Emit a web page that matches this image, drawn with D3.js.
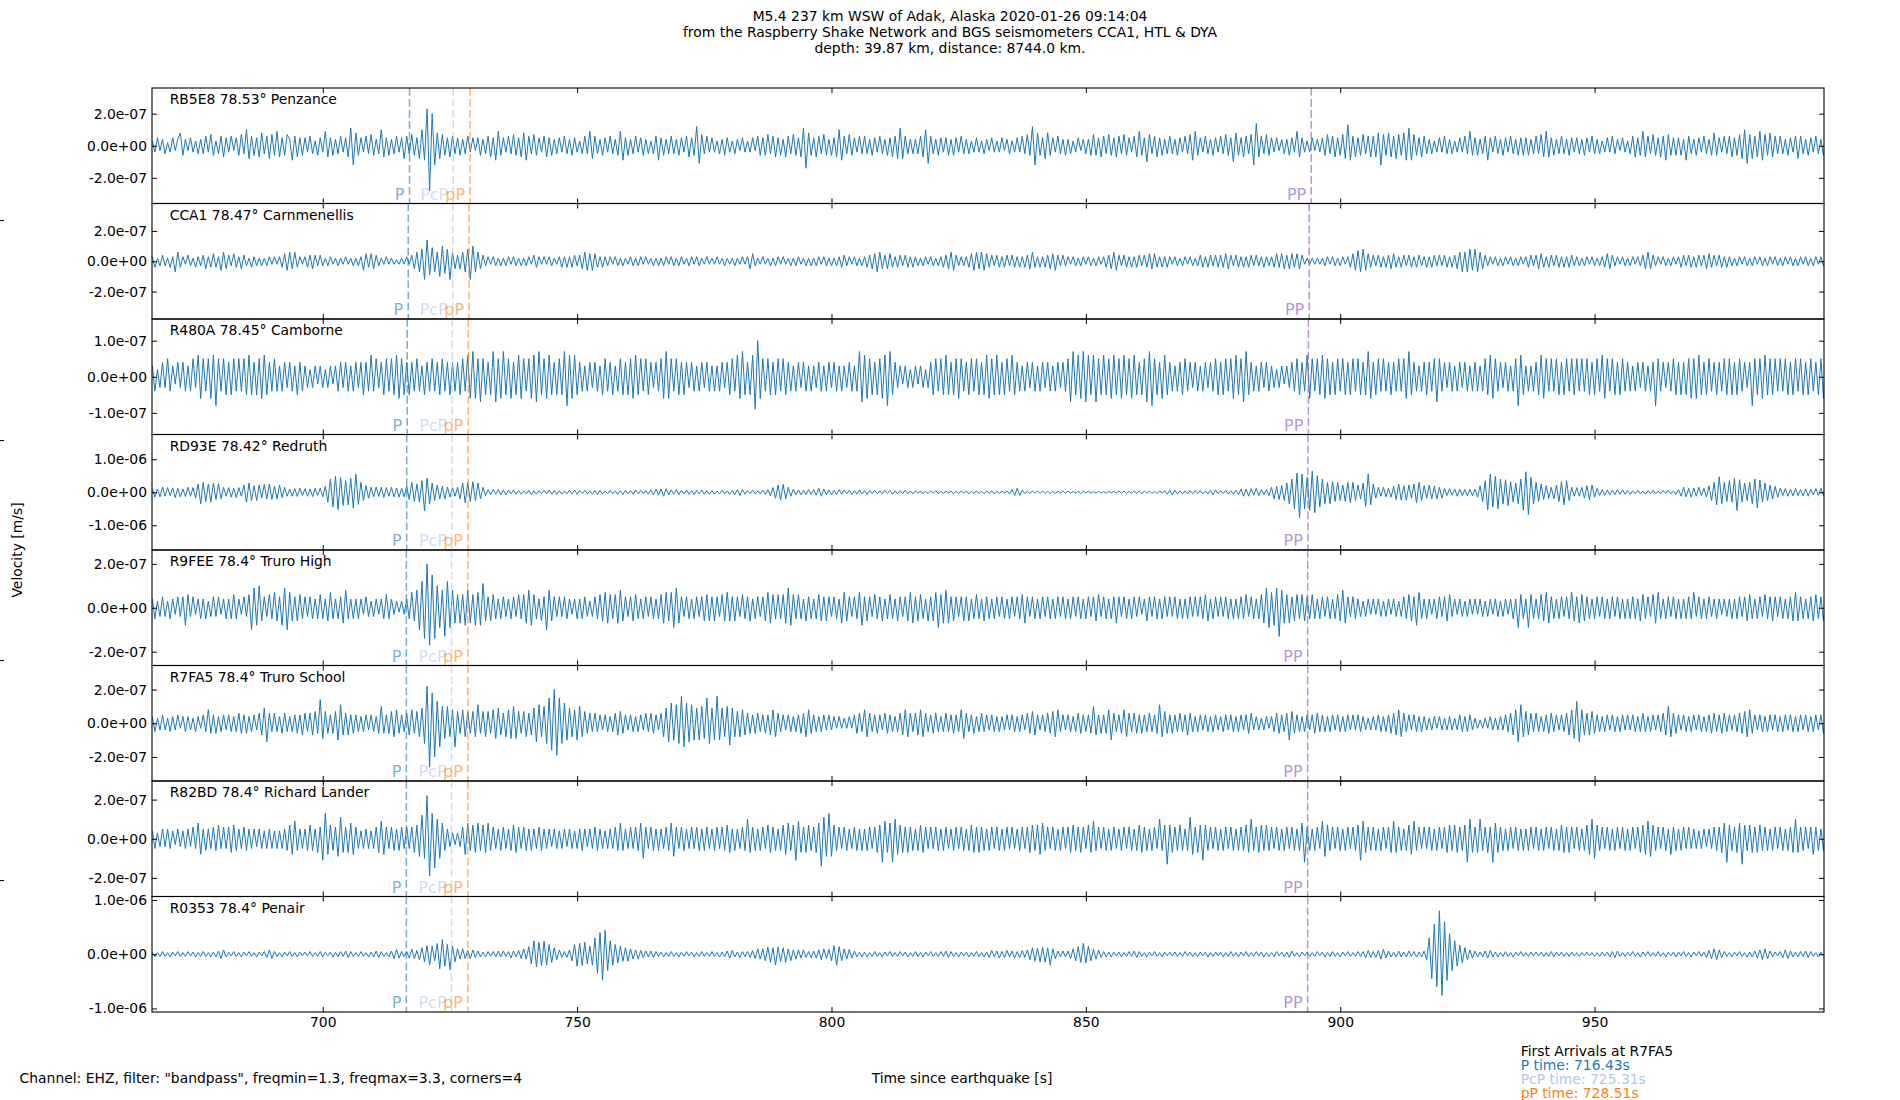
<!DOCTYPE html>
<html lang="en">
<head>
<meta charset="utf-8">
<title>M5.4 237 km WSW of Adak, Alaska</title>
<script src="https://d3js.org/d3.v7.min.js"></script>
<style>
    body { margin: 0; background: white; }
    svg { display: block; }
    text { font-family: "DejaVu Sans", sans-serif; font-size: 13.9px; fill: black; }
    .trace { fill: none; stroke: #1f77b4; stroke-width: 1; }
    .frame { fill: none; stroke: black; stroke-width: 1.1; }
    .arrival { stroke-width: 1.5; stroke-dasharray: 7.7 3.3; }
    .phase { font-size: 16px; }
</style>
</head>
<body>
<svg id="chart" width="1900" height="1100"></svg>
<script>
    // ---- text content ----
    const titleLines = [
        "M5.4 237 km WSW of Adak, Alaska 2020-01-26 09:14:04",
        "from the Raspberry Shake Network and BGS seismometers CCA1, HTL & DYA",
        "depth: 39.87 km, distance: 8744.0 km."
    ];
    const stationLabels = [
        "RB5E8 78.53° Penzance", "CCA1 78.47° Carnmenellis", "R480A 78.45° Camborne",
        "RD93E 78.42° Redruth", "R9FEE 78.4° Truro High", "R7FA5 78.4° Truro School",
        "R82BD 78.4° Richard Lander", "R0353 78.4° Penair"
    ];
    const filterNote = 'Channel: EHZ, filter: "bandpass", freqmin=1.3, freqmax=3.3, corners=4';
    const legendLines = ["First Arrivals at R7FA5", "P time: 716.43s", "PcP time: 725.31s", "pP time: 728.51s"];

    // arrival times per station [s]
    const arrivalP   = [717.05, 716.8, 716.6, 716.5, 716.43, 716.43, 716.43, 716.43];
    const arrivalPcP = [725.65, 725.55, 725.45, 725.4, 725.31, 725.31, 725.31, 725.31];
    const arrivalpP  = [728.95, 728.75, 728.6, 728.55, 728.51, 728.51, 728.51, 728.51];
    const arrivalPP  = [894.3, 893.9, 893.75, 893.65, 893.6, 893.6, 893.6, 893.6];

    // axes
    const timeRange = [666.43, 995.1];
    const xTickValues = [700, 750, 800, 850, 900, 950];
    const yLimits = [3.6e-7, 3.81e-7, 1.6e-7, 1.75e-6, 2.63e-7, 3.43e-7, 2.95e-7, 1.065e-6];
    const yTickSteps = [2e-7, 2e-7, 1e-7, 1e-6, 2e-7, 2e-7, 2e-7, 1e-6];

    // velocity samples, in units of 1e-8 m/s; one row = 10 s of data, 0.5 s apart, first at 666.5 s
    const sampleStart = 666.5, sampleStep = 0.5, rowSeconds = 10, unit = 1e-8;

    const tracePenzance = [
        [3,-4,5,-3,4,-5,2,-4,5,-3,4,8,-6,4,-3,5,-4,3,-5,4],
        [-5,6,-4,7,-6,3,-5,6,-7,5,-4,6,-3,5,-6,7,-5,10,-8,6],
        [-6,5,-7,8,-5,6,-8,7,-6,9,-7,5,-6,7,4,-9,6,-7,5,-6],
        [5,-4,6,-5,3,-6,5,-4,9,-7,5,-6,4,-5,6,-4,5,-7,11,-12],
        [8,-6,5,-4,6,-5,7,-6,4,-5,10,-7,5,-6,4,-5,6,-4,5,-8],
        [6,-5,7,-6,5,-8,10,-9,23,-28,20,-12,8,-8,7,-6,5,-7,6,-5],
        [5,-6,4,-5,6,-4,5,-3,5,-6,4,-5,6,-7,5,-9,9,-6,5,-4],
        [6,-5,7,-6,5,-7,8,-9,6,-5,7,-6,5,-4,6,-7,5,-6,4,-5],
        [5,-4,6,-5,4,-6,5,-4,3,-5,6,-5,9,-8,6,-5,4,-6,5,-4],
        [6,-5,4,-6,9,-9,5,-6,4,-5,6,-4,5,-6,4,-5,3,-5,6,-9],
        [5,-6,4,-5,6,-5,4,-6,5,-4,6,-7,5,-6,12,-11,7,-5,6,-4],
        [5,-4,3,-5,4,-6,5,-4,3,-5,4,-3,5,-4,3,-4,5,-3,6,-6],
        [5,-6,7,-5,6,-7,5,-6,4,-7,6,-5,7,-6,5,-7,11,-14,8,-6],
        [5,-7,6,-5,7,-6,4,-6,5,-7,10,-9,6,-5,7,-6,5,-4,6,-5],
        [6,-5,4,-6,5,-4,6,-5,4,-6,5,-7,6,-8,11,-8,6,-5,4,-5],
        [4,-5,6,-7,10,-11,6,-5,4,-6,5,-4,5,-6,4,-6,5,-4,6,-5],
        [4,-5,3,-4,5,-4,3,-5,4,-3,5,-4,3,-4,5,-3,4,-5,3,-4],
        [5,-4,6,-5,7,-6,12,-12,8,-6,5,-8,8,-6,5,-4,6,-5,4,-6],
        [4,-5,3,-4,5,-3,4,-5,4,-6,7,-6,5,-7,6,-5,7,-6,5,-7],
        [6,-5,7,-6,5,-4,6,-7,9,-6,5,-10,7,-5,6,-7,5,-6,4,-5],
        [6,-5,4,-6,5,-4,6,-5,7,-9,9,-6,5,-4,6,-5,4,-6,5,-4],
        [6,-5,7,-6,5,-10,8,-6,5,-7,6,-5,7,-12,14,-7,6,-5,7,-6],
        [5,-4,5,-3,4,-5,4,-6,5,-4,9,-7,5,-4,3,-4,5,-3,4,-4],
        [5,-6,7,-5,6,-7,5,-6,7,-8,13,-9,6,-7,5,-6,7,-5,6,-7],
        [6,-7,8,-12,7,-6,8,-7,6,-8,7,-6,8,-9,11,-9,7,-6,5,-7],
        [6,-5,4,-5,3,-4,5,-4,6,-5,4,-5,3,-4,5,-4,6,-5,9,-6],
        [5,-6,4,-5,6,-9,5,-4,6,-5,4,-6,5,-4,6,-5,4,-6,5,-6],
        [5,-6,4,-5,6,-5,7,-7,9,-7,5,-6,4,-5,6,-5,4,-6,5,-4],
        [5,-5,4,-6,5,-4,6,-5,4,-5,3,-4,5,-4,6,-5,4,-3,5,-4],
        [3,-5,6,-7,5,-6,9,-7,6,-5,7,-6,5,-7,6,-9,7,-6,5,-6],
        [5,-6,4,-9,6,-5,4,-6,5,-4,6,-5,4,-6,8,-6,5,-4,6,-5],
        [6,-7,5,-6,7,-8,10,-11,7,-8,6,-7,9,-9,7,-6,8,-7,6,-5],
        [6,-5,4,-6,5,-4,6,-8,6,-5,4,-6,5,-4,6,-5,4,-6,5,-4]
    ];

    const traceCarnmenellis = [
        [3,-4,2,-3,4,-3,2,-4,3,-7,6,-4,3,-2,4,-3,2,-4,3,-3],
        [4,-5,3,-4,5,-4,3,-6,6,-5,4,-3,5,-4,3,-5,4,-3,2,-4],
        [3,-3,2,-3,2,-3,3,-2,3,-2,3,-4,5,-6,6,-5,6,-4,3,-2],
        [3,-4,4,-5,4,-3,4,-3,2,-3,3,-2,2,-3,2,-2,3,-2,2,-3],
        [2,-3,3,-6,5,-4,5,-5,4,-3,2,-2,3,-2,2,-2,1,-2,2,-2],
        [3,-2,4,-5,6,-7,8,-12,14,-9,9,-7,6,-10,10,-8,8,-12,6,-5],
        [4,-5,6,-7,8,-12,10,-7,6,-5,4,-3,3,-2,3,-3,2,-3,2,-3],
        [3,-2,3,-3,2,-3,2,-3,3,-2,4,-4,3,-2,3,-2,3,-3,2,-2],
        [3,-4,3,-4,3,-4,4,-3,4,-5,6,-6,5,-6,5,-4,3,-4,3,-3],
        [3,-2,3,-3,2,-3,2,-2,3,-3,2,-3,3,-2,3,-2,2,-3,2,-3],
        [2,-3,3,-2,3,-3,2,-3,3,-2,2,-3,3,-2,3,-3,2,-2,3,-2],
        [2,-2,3,-2,2,-3,2,-2,2,-3,2,-2,3,-2,3,-5,5,-3,2,-2],
        [3,-2,2,-3,2,-3,3,-2,3,-2,2,-3,2,-3,3,-2,2,-3,2,-3],
        [2,-3,3,-2,3,-3,2,-3,2,-3,3,-4,4,-3,3,-2,3,-3,2,-3],
        [3,-4,4,-5,5,-7,6,-5,4,-5,5,-4,3,-4,4,-3,4,-4,3,-4],
        [3,-3,2,-3,3,-2,3,-3,2,-3,3,-4,4,-5,6,-6,4,-3,3,-3],
        [3,-4,5,-6,6,-5,6,-6,5,-4,4,-3,4,-4,3,-4,4,-3,4,-4],
        [3,-4,3,-4,4,-5,6,-4,3,-4,3,-4,4,-5,5,-6,4,-3,4,-3],
        [3,-2,3,-3,2,-3,3,-2,3,-3,2,-3,3,-2,3,-4,4,-5,6,-6],
        [4,-3,4,-4,3,-4,3,-4,4,-3,4,-4,5,-5,5,-4,3,-4,3,-4],
        [3,-2,3,-3,2,-3,3,-2,3,-3,2,-3,4,-4,3,-4,4,-3,4,-4],
        [4,-4,5,-5,4,-3,4,-4,3,-4,3,-4,4,-3,4,-3,3,-4,3,-3],
        [3,-4,5,-4,5,-5,4,-5,5,-4,5,-5,4,-2,2,-2,2,-2,2,-2],
        [2,-3,3,-2,3,-3,2,-3,3,-2,3,-4,5,-6,7,-7,8,-6,5,-4],
        [4,-3,4,-4,3,-4,4,-5,5,-4,3,-4,4,-3,4,-4,3,-4,4,-3],
        [3,-4,3,-4,4,-3,4,-3,4,-4,3,-4,4,-5,6,-7,6,-7,8,-6],
        [8,-7,6,-5,4,-3,3,-2,3,-3,2,-3,3,-2,3,-3,2,-3,3,-2],
        [3,-4,4,-3,4,-5,5,-4,3,-4,4,-3,4,-4,3,-4,3,-4,4,-3],
        [3,-3,2,-3,3,-2,3,-3,2,-3,3,-4,5,-5,4,-3,3,-2,3,-3],
        [2,-3,3,-2,3,-3,4,-5,6,-5,4,-3,3,-2,3,-3,2,-3,3,-2],
        [3,-4,4,-3,4,-4,3,-4,4,-3,4,-5,5,-4,4,-3,4,-4,3,-4],
        [3,-3,2,-3,3,-2,3,-3,2,-3,3,-2,3,-3,2,-3,3,-2,3,-3],
        [2,-3,3,-2,3,-3,2,-3,3,-2,3,-3,2,-3,3,-2,3,-3,2,-3]
    ];

    const traceCamborne = [
        [3,-4,2,-3,4,-3,5,-4,3,-2,4,-3,4,-4,3,-4,5,-3,6,-6],
        [5,-4,5,-6,6,-8,5,-4,5,-5,4,-5,5,-4,5,-4,5,-5,6,-5],
        [4,-5,5,-6,6,-5,4,-4,5,-4,3,-4,4,-3,4,-4,3,-5,4,-4],
        [3,-3,2,-3,3,-2,3,-3,2,-3,3,-2,3,-4,4,-3,4,-4,3,-4],
        [4,-3,4,-5,4,-4,6,-4,5,-3,4,-5,5,-4,5,-5,6,-6,5,-5],
        [4,-5,4,-4,5,-4,3,-5,4,-4,5,-4,4,-5,5,-4,4,-5,4,-4],
        [4,-5,5,-4,6,-6,7,-6,5,-7,5,-5,4,-5,7,-7,5,-6,7,-5],
        [5,-6,4,-5,6,-6,5,-4,5,-6,6,-7,7,-5,5,-6,6,-5,4,-5],
        [5,-5,7,-8,6,-6,6,-5,4,-4,3,-4,4,-3,4,-4,3,-5,5,-4],
        [4,-5,3,-4,5,-5,4,-5,5,-6,6,-5,5,-4,5,-5,4,-3,4,-4],
        [5,-6,7,-6,5,-4,5,-5,4,-5,4,-3,4,-4,3,-4,4,-3,4,-4],
        [3,-4,3,-4,4,-3,4,-5,5,-4,6,-6,7,-5,4,-5,6,-9,10,-6],
        [5,-4,5,-5,4,-5,5,-4,5,-5,4,-4,3,-4,4,-3,4,-4,3,-4],
        [3,-3,4,-4,3,-4,4,-3,4,-4,3,-4,3,-3,4,-4,3,-4,7,-7],
        [6,-6,5,-5,4,-5,5,-6,6,-8,7,-5,4,-3,3,-2,3,-3,2,-3],
        [3,-2,3,-3,2,-3,4,-5,5,-4,5,-5,6,-5,4,-5,5,-6,5,-4],
        [4,-5,5,-4,5,-5,4,-5,6,-6,5,-5,6,-5,4,-5,5,-4,6,-5],
        [4,-4,3,-4,4,-3,4,-4,3,-4,4,-3,4,-4,3,-4,4,-3,4,-4],
        [5,-7,7,-5,6,-6,7,-7,6,-5,6,-7,5,-5,6,-5,5,-6,6,-5],
        [5,-6,6,-5,5,-6,6,-5,4,-5,5,-7,7,-8,5,-5,4,-6,6,-5],
        [4,-4,3,-4,4,-5,5,-4,4,-3,4,-4,3,-4,4,-3,4,-4,5,-5],
        [4,-5,5,-4,5,-6,6,-5,5,-7,7,-5,4,-4,3,-4,4,-3,4,-4],
        [3,-3,2,-3,3,-2,3,-3,4,-4,5,-5,4,-4,6,-6,5,-4,5,-5],
        [6,-6,5,-5,4,-5,5,-4,5,-5,4,-5,5,-4,5,-5,4,-5,7,-6],
        [4,-5,5,-4,5,-4,4,-5,4,-4,5,-4,5,-6,7,-5,4,-4,3,-4],
        [4,-5,4,-4,5,-7,5,-4,4,-3,4,-4,3,-4,4,-3,4,-4,3,-4],
        [4,-4,3,-4,5,-5,6,-6,5,-4,4,-3,4,-4,3,-4,5,-8,6,-5],
        [3,-4,3,-4,4,-5,6,-6,5,-4,5,-4,5,-5,4,-5,5,-4,5,-5],
        [5,-4,5,-4,5,-5,4,-5,5,-4,6,-6,5,-4,5,-5,4,-5,5,-4],
        [4,-4,3,-4,4,-3,4,-4,3,-4,4,-8,5,-4,4,-3,4,-4,5,-5],
        [4,-5,4,-5,5,-6,5,-6,6,-5,4,-5,5,-4,4,-5,4,-4,5,-5],
        [5,-5,4,-5,5,-4,4,-3,4,-8,5,-5,5,-6,6,-5,5,-5,5,-4],
        [5,-4,5,-5,4,-5,5,-4,5,-5,4,-5,5,-4,4,-5,5,-6,6,-7]
    ];

    const traceRedruth = [
        [12,-15,10,-14,16,-12,14,-10,13,-16,12,-14,10,-13,15,-12,14,-18,25,-35],
        [30,-28,25,-30,28,-22,26,-20,15,-12,14,-15,12,-16,14,-12,22,-30,28,-25],
        [20,-25,22,-18,24,-20,25,-22,18,-20,22,-16,15,-12,10,-12,11,-13,12,-10],
        [11,-12,10,-13,12,-10,12,-14,18,-30,40,-45,48,-52,45,-40,35,-38,42,-48],
        [55,-37,30,-25,20,-18,15,-14,16,-13,15,-16,14,-12,15,-14,13,-15,12,-14],
        [18,-22,30,-28,25,-30,35,-57,43,-35,28,-25,22,-20,18,-20,16,-15,14,-12],
        [15,-20,28,-32,30,-28,32,-25,28,-20,15,-10,8,-7,8,-6,8,-7,6,-8],
        [6,-5,7,-6,5,-6,4,-5,6,-7,5,-6,5,-4,6,-5,7,-6,5,-6],
        [5,-6,4,-5,6,-5,7,-6,5,-4,6,-5,4,-6,5,-7,6,-5,4,-5],
        [6,-5,4,-6,5,-7,6,-4,5,-6,7,-5,6,-4,5,-6,7,-8,10,-9],
        [10,-12,11,-8,7,-6,8,-7,6,-5,7,-6,5,-7,6,-5,7,-6,5,-6],
        [5,-6,4,-5,6,-5,4,-6,5,-7,8,-10,9,-6,5,-4,6,-5,4,-5],
        [6,-7,8,-10,14,-18,22,-24,24,-20,15,-12,10,-8,7,-8,6,-7,8,-6],
        [8,-9,12,-12,10,-8,7,-8,6,-7,8,-6,7,-5,6,-7,5,-6,7,-5],
        [5,-6,5,-4,6,-5,4,-5,6,-4,5,-6,4,-5,5,-4,6,-5,4,-5],
        [4,-3,4,-5,3,-4,4,-3,5,-4,3,-4,4,-3,4,-5,3,-4,4,-3],
        [4,-5,3,-4,5,-4,3,-5,4,-3,4,-5,3,-4,4,-3,4,-5,8,-10],
        [12,-10,6,-4,3,-4,4,-3,4,-3,4,-4,3,-4,3,-4,4,-3,4,-3],
        [3,-3,2,-3,3,-4,3,-2,3,-3,2,-3,3,-3,2,-3,3,-2,3,-3],
        [4,-3,4,-4,3,-4,4,-3,4,-5,4,-3,4,-4,3,-4,4,-3,5,-6],
        [6,-8,6,-5,4,-5,4,-5,5,-4,5,-4,5,-5,4,-5,6,-8,7,-5],
        [5,-4,5,-5,4,-5,6,-7,9,-12,10,-12,11,-9,12,-10,8,-7,8,-10],
        [15,-20,18,-22,20,-25,28,-35,40,-50,58,-77,55,-50,45,-55,64,-62,50,-45],
        [40,-35,30,-35,32,-28,30,-25,22,-28,30,-32,30,-25,22,-20,28,-43,55,-38],
        [25,-18,15,-12,15,-14,12,-15,18,-22,25,-24,20,-25,22,-18,25,-32,30,-25],
        [20,-18,22,-20,18,-20,15,-18,12,-10,11,-9,10,-12,9,-10,8,-11,9,-10],
        [10,-15,20,-28,35,-53,55,-45,48,-50,40,-35,38,-40,32,-30,28,-35,40,-55],
        [62,-68,45,-35,30,-28,25,-22,20,-18,15,-20,22,-28,32,-38,35,-25,15,-12],
        [14,-12,15,-18,20,-23,22,-15,12,-10,8,-9,7,-8,6,-7,8,-6,7,-6],
        [5,-6,4,-5,6,-5,4,-6,5,-4,6,-5,4,-5,5,-4,6,-5,4,-6],
        [8,-12,15,-14,12,-15,13,-12,15,-10,12,-15,20,-25,30,-38,47,-35,30,-28],
        [35,-30,42,-55,38,-30,28,-25,30,-35,40,-48,37,-30,28,-25,22,-20,18,-15],
        [12,-10,11,-12,9,-11,12,-10,8,-11,10,-12,9,-8,11,-10,12,-9,10,-11]
    ];

    const traceTruroHigh = [
        [4,-5,3,-4,5,-4,3,-5,4,-3,5,-4,5,-8,6,-4,5,-3,4,-5],
        [4,-5,3,-4,5,-4,5,-3,4,-5,4,-5,6,-5,4,-3,5,-4,6,-10],
        [9,-8,10,-6,5,-4,6,-5,7,-6,5,-8,9,-10,7,-6,5,-6,6,-5],
        [5,-4,5,-5,4,-5,6,-5,4,-6,7,-5,4,-5,5,-7,8,-5,4,-5],
        [4,-5,4,-3,5,-4,3,-4,4,-3,4,-5,6,-5,4,-3,3,-2,3,-3],
        [4,-5,7,-6,8,-10,12,-14,20,-17,15,-14,10,-9,8,-13,12,-9,8,-7],
        [6,-7,6,-8,8,-7,6,-8,7,-8,11,-6,5,-6,6,-5,4,-5,5,-4],
        [4,-5,5,-4,6,-5,6,-7,8,-8,6,-5,4,-6,5,-10,8,-6,5,-4],
        [5,-4,5,-5,4,-3,4,-5,4,-5,5,-4,3,-4,5,-5,6,-6,7,-7],
        [6,-5,6,-7,8,-6,5,-4,5,-6,6,-5,4,-5,5,-4,5,-5,4,-5],
        [6,-7,7,-6,7,-9,9,-7,5,-4,5,-5,4,-5,5,-4,5,-6,6,-6],
        [5,-6,5,-4,6,-6,7,-6,5,-6,5,-4,6,-5,5,-6,4,-5,5,-4],
        [5,-6,7,-7,6,-5,6,-5,6,-7,9,-8,6,-5,6,-5,4,-6,5,-5],
        [4,-5,6,-6,5,-6,5,-4,5,-5,4,-7,7,-6,5,-4,5,-5,7,-8],
        [5,-6,5,-4,6,-5,5,-6,4,-5,6,-5,4,-6,5,-4,5,-6,7,-7],
        [5,-6,6,-5,4,-6,5,-6,7,-9,6,-7,8,-7,5,-6,5,-4,5,-6],
        [5,-6,4,-5,6,-5,4,-6,5,-5,4,-5,5,-4,5,-5,4,-5,5,-4],
        [5,-5,6,-7,5,-4,5,-5,4,-5,5,-4,5,-5,4,-5,5,-4,5,-5],
        [4,-5,5,-4,5,-5,4,-5,5,-4,5,-6,6,-4,5,-5,4,-5,5,-7],
        [5,-4,5,-5,4,-5,5,-4,5,-3,4,-6,5,-4,5,-5,4,-5,5,-4],
        [5,-4,5,-5,4,-5,4,-5,5,-4,5,-4,5,-5,6,-6,4,-5,5,-4],
        [5,-4,5,-5,4,-5,4,-5,5,-5,6,-4,5,-5,4,-5,6,-7,9,-9],
        [7,-8,9,-13,8,-7,6,-7,5,-6,6,-5,6,-6,5,-5,6,-5,4,-5],
        [5,-4,5,-5,4,-5,6,-6,8,-7,5,-4,5,-5,4,-4,3,-4,4,-3],
        [4,-3,4,-4,3,-4,4,-3,4,-4,3,-4,5,-5,6,-6,5,-8,7,-5],
        [4,-5,4,-3,4,-5,5,-4,5,-6,6,-4,4,-3,4,-4,3,-4,4,-3],
        [4,-3,4,-4,3,-4,4,-3,4,-4,3,-4,4,-3,4,-5,4,-9,6,-5],
        [4,-9,6,-5,4,-5,6,-6,7,-7,5,-5,4,-5,5,-4,5,-5,7,-6],
        [5,-7,6,-6,5,-5,4,-5,5,-4,5,-5,4,-5,5,-4,5,-5,4,-5],
        [4,-5,5,-5,4,-6,6,-5,5,-4,6,-7,7,-5,4,-5,5,-4,5,-5],
        [4,-5,4,-5,5,-5,7,-4,5,-5,4,-5,5,-4,4,-5,4,-3,4,-4],
        [4,-5,4,-5,5,-4,5,-6,6,-5,4,-5,5,-4,6,-5,5,-6,5,-4],
        [5,-5,4,-5,5,-6,7,-6,5,-5,4,-5,5,-6,6,-5,5,-6,5,-5]
    ];

    const traceTruroSchool = [
        [4,-5,3,-4,5,-4,3,-5,4,-4,5,-3,4,-5,4,-4,3,-5,4,-3],
        [5,-5,8,-6,5,-6,4,-5,5,-4,5,-5,4,-5,6,-6,5,-6,4,-5],
        [5,-4,6,-7,9,-11,6,-5,6,-5,4,-6,6,-5,4,-5,5,-6,5,-7],
        [6,-5,6,-7,7,-6,14,-9,7,-6,5,-6,7,-10,11,-7,6,-7,5,-6],
        [5,-5,4,-5,5,-4,5,-5,4,-6,10,-6,5,-6,7,-8,8,-6,5,-5],
        [6,-7,8,-6,7,-8,9,-12,22,-26,18,-20,13,-14,10,-9,10,-8,8,-14],
        [7,-6,8,-8,7,-6,7,-8,11,-6,7,-8,7,-6,8,-9,9,-7,6,-8],
        [8,-9,10,-9,7,-6,7,-8,6,-7,9,-11,11,-8,10,-12,15,-16,20,-19],
        [15,-12,12,-10,9,-8,8,-10,10,-8,7,-6,6,-5,6,-5,5,-4,5,-5],
        [4,-5,6,-7,7,-6,5,-4,5,-5,4,-5,5,-4,6,-5,6,-6,5,-4],
        [6,-8,9,-11,12,-10,11,-12,16,-14,12,-11,11,-10,9,-10,10,-9,15,-12],
        [9,-10,16,-10,9,-8,10,-13,9,-8,7,-8,8,-7,6,-6,5,-6,6,-5],
        [5,-6,5,-7,8,-8,6,-5,5,-4,5,-5,4,-5,5,-6,6,-8,8,-6],
        [5,-5,4,-5,5,-4,5,-4,4,-3,4,-3,3,-3,4,-3,5,-6,6,-5],
        [8,-8,6,-5,5,-6,5,-4,6,-6,5,-5,4,-5,6,-7,8,-8,6,-5],
        [6,-7,8,-8,6,-5,5,-6,6,-5,4,-5,6,-5,5,-6,5,-5,8,-9],
        [6,-5,5,-6,4,-5,6,-5,5,-4,5,-5,4,-5,4,-4,5,-4,5,-5],
        [4,-5,5,-4,6,-6,7,-7,5,-4,5,-5,6,-6,7,-8,8,-5,5,-4],
        [5,-5,4,-5,6,-6,5,-5,5,-6,10,-7,5,-6,5,-6,8,-10,6,-5],
        [5,-6,8,-8,6,-5,6,-6,5,-6,5,-5,6,-5,5,-6,11,-8,7,-6],
        [5,-6,5,-5,6,-5,5,-7,6,-5,4,-5,5,-4,5,-5,4,-5,5,-4],
        [4,-5,5,-4,5,-5,4,-5,5,-4,5,-6,6,-4,4,-4,3,-4,4,-3],
        [4,-5,6,-6,5,-5,6,-10,7,-6,5,-5,4,-5,5,-4,5,-6,6,-5],
        [5,-5,4,-5,5,-4,5,-5,4,-5,5,-4,5,-4,5,-5,4,-4,3,-4],
        [4,-4,5,-5,4,-5,5,-6,6,-7,8,-8,6,-5,5,-4,5,-5,4,-5],
        [4,-4,3,-4,4,-3,4,-4,3,-4,4,-4,3,-4,5,-5,4,-5,5,-4],
        [3,-3,2,-3,3,-3,4,-4,3,-4,4,-4,5,-5,6,-7,8,-11,11,-8],
        [7,-7,6,-5,6,-5,4,-5,5,-6,6,-5,5,-4,5,-5,6,-7,8,-9],
        [13,-11,8,-7,6,-7,7,-6,5,-5,4,-5,5,-4,5,-5,4,-5,5,-4],
        [5,-4,5,-5,4,-5,6,-5,4,-5,5,-4,5,-5,6,-7,10,-8,6,-6],
        [5,-4,5,-5,4,-5,5,-4,5,-5,4,-5,5,-6,6,-5,5,-6,6,-5],
        [5,-4,5,-5,6,-6,7,-8,8,-6,5,-4,5,-5,4,-5,5,-4,5,-5],
        [4,-5,5,-4,5,-5,4,-5,5,-4,5,-5,4,-5,5,-4,5,-6,6,-5]
    ];

    const traceRichardLander = [
        [4,-5,3,-4,5,-4,5,-5,4,-3,5,-4,4,-5,5,-4,6,-5,8,-8],
        [5,-6,5,-5,6,-6,7,-5,6,-5,6,-7,7,-6,5,-5,6,-6,5,-5],
        [5,-4,5,-5,4,-5,5,-5,4,-5,4,-5,5,-6,7,-8,9,-6,5,-5],
        [5,-6,7,-6,5,-7,6,-11,13,-8,7,-6,6,-9,11,-7,6,-7,8,-8],
        [6,-5,4,-5,5,-5,4,-5,6,-7,9,-8,6,-5,6,-6,5,-6,6,-5],
        [6,-5,6,-7,7,-9,12,-10,22,-19,13,-15,10,-10,8,-6,5,-4,3,-3],
        [3,-4,6,-8,8,-6,7,-7,8,-6,7,-7,8,-6,6,-5,5,-6,6,-5],
        [5,-6,7,-7,6,-5,6,-6,5,-6,5,-5,6,-6,5,-5,5,-4,5,-5],
        [4,-5,5,-4,5,-5,4,-5,5,-6,5,-4,5,-5,6,-6,5,-5,4,-5],
        [5,-5,6,-6,8,-6,5,-5,6,-5,6,-6,8,-10,6,-5,6,-6,5,-6],
        [5,-5,6,-6,8,-9,6,-5,6,-6,5,-5,6,-5,6,-6,5,-6,6,-5],
        [5,-6,6,-5,6,-6,7,-7,5,-6,5,-5,6,-6,10,-7,6,-6,5,-6],
        [6,-5,7,-7,6,-6,5,-6,7,-8,8,-6,7,-11,9,-7,6,-7,7,-6],
        [6,-7,8,-14,11,-9,13,-9,7,-6,6,-5,6,-6,5,-5,6,-6,5,-6],
        [5,-6,6,-5,6,-7,7,-12,9,-7,8,-12,10,-8,7,-7,6,-7,6,-6],
        [5,-6,7,-7,6,-5,6,-5,6,-6,5,-6,6,-5,5,-6,6,-5,6,-6],
        [5,-6,7,-7,6,-7,6,-6,5,-6,6,-5,6,-6,5,-6,6,-5,6,-5],
        [5,-6,6,-5,6,-7,7,-6,7,-8,8,-6,6,-5,6,-6,5,-6,6,-5],
        [6,-7,7,-6,6,-7,6,-5,7,-7,9,-6,6,-5,6,-6,5,-6,6,-5],
        [5,-6,6,-5,6,-6,5,-6,7,-7,6,-6,5,-6,6,-5,10,-6,7,-13],
        [7,-7,6,-6,7,-6,5,-6,11,-8,6,-7,7,-11,7,-6,6,-5,6,-6],
        [5,-6,6,-5,6,-6,5,-6,6,-6,7,-7,10,-6,6,-7,7,-6,7,-6],
        [6,-5,6,-6,5,-6,6,-5,6,-6,5,-6,8,-12,6,-6,5,-6,6,-5],
        [9,-9,7,-6,6,-5,6,-6,5,-6,6,-5,6,-6,7,-11,9,-7,6,-6],
        [6,-6,5,-6,6,-5,6,-7,9,-7,6,-6,5,-6,7,-8,9,-6,6,-5],
        [6,-5,6,-6,5,-6,6,-5,6,-7,7,-6,7,-7,6,-6,7,-12,10,-7],
        [6,-7,10,-6,6,-7,6,-12,8,-7,6,-6,5,-6,6,-5,6,-6,5,-6],
        [5,-6,6,-5,6,-6,5,-6,6,-5,6,-6,5,-6,7,-7,6,-7,6,-5],
        [6,-6,5,-6,7,-8,10,-10,7,-6,6,-5,6,-6,5,-6,6,-5,6,-6],
        [5,-6,6,-5,6,-7,7,-8,9,-9,7,-6,6,-5,6,-6,5,-8,6,-6],
        [5,-6,6,-5,6,-5,5,-5,4,-5,5,-4,5,-5,6,-6,6,-7,8,-12],
        [7,-6,6,-7,8,-13,7,-6,7,-7,6,-7,7,-6,6,-6,5,-6,6,-5],
        [6,-6,5,-6,6,-7,10,-7,6,-6,6,-5,6,-8,6,-6,5,-6,6,-5]
    ];

    const tracePenair = [
        [4,-5,3,-4,5,-4,3,-5,4,-3,5,-4,3,-4,5,-3,4,-5,3,-4],
        [5,-4,3,-5,4,-5,6,-8,8,-5,4,-3,5,-4,3,-5,4,-3,5,-4],
        [3,-5,4,-3,5,-6,8,-8,5,-4,3,-5,4,-3,5,-4,3,-5,4,-3],
        [4,-3,5,-4,3,-4,5,-5,4,-3,4,-5,3,-4,5,-4,6,-6,5,-4],
        [3,-4,5,-4,3,-5,4,-5,6,-6,5,-4,3,-5,6,-8,9,-7,5,-4],
        [5,-7,9,-8,7,-10,12,-14,16,-20,15,-12,20,-27,27,-22,18,-28,15,-14],
        [10,-9,10,-8,7,-8,8,-6,6,-5,4,-5,5,-4,5,-5,6,-5,6,-4],
        [5,-7,6,-5,7,-8,10,-9,14,-18,25,-23,22,-21,24,-20,18,-15,12,-10],
        [8,-6,5,-6,8,-12,18,-22,20,-21,22,-18,15,-20,30,-35,40,-48,44,-30],
        [25,-20,18,-16,15,-13,12,-13,10,-9,8,-9,7,-6,6,-5,6,-6,5,-4],
        [4,-5,3,-4,5,-4,3,-5,4,-4,5,-3,4,-5,3,-4,5,-4,3,-4],
        [5,-4,3,-5,4,-5,6,-7,7,-5,4,-6,5,-4,5,-6,7,-8,10,-9],
        [10,-12,13,-15,12,-20,13,-14,12,-15,10,-12,8,-9,8,-7,8,-6,5,-6],
        [6,-7,8,-10,10,-8,9,-12,16,-20,14,-12,10,-9,9,-7,6,-5,4,-5],
        [4,-5,3,-4,5,-4,3,-5,4,-3,5,-4,3,-4,5,-3,4,-5,3,-4],
        [5,-4,3,-5,4,-3,5,-4,3,-4,5,-4,6,-6,5,-4,3,-5,4,-3],
        [4,-5,3,-4,5,-4,3,-5,4,-6,7,-5,6,-7,5,-6,7,-5,6,-7],
        [5,-6,7,-6,8,-10,12,-13,11,-14,13,-15,12,-20,10,-8,6,-5,6,-5],
        [6,-8,10,-12,14,-15,20,-16,15,-12,9,-9,8,-6,5,-5,4,-5,4,-3],
        [4,-5,3,-4,5,-4,6,-6,5,-4,3,-5,4,-3,5,-4,3,-5,4,-3],
        [4,-3,4,-4,3,-4,5,-3,4,-4,3,-4,4,-3,4,-5,3,-4,4,-3],
        [4,-5,3,-4,5,-4,3,-5,4,-3,5,-4,3,-4,5,-3,4,-5,3,-4],
        [3,-4,5,-3,4,-5,4,-6,6,-4,3,-5,4,-3,4,-4,3,-4,5,-3],
        [4,-5,3,-4,5,-4,3,-5,4,-3,5,-4,3,-4,5,-4,5,-6,7,-6],
        [5,-6,7,-9,9,-7,6,-5,4,-5,6,-5,4,-5,6,-4,5,-5,4,-5],
        [6,-10,30,-45,56,-60,80,-76,60,-48,38,-30,25,-22,17,-16,12,-10,8,-7],
        [6,-5,4,-5,6,-7,7,-5,4,-5,3,-4,5,-4,3,-5,4,-3,5,-4],
        [3,-4,4,-3,4,-3,4,-4,3,-4,5,-5,4,-3,4,-4,3,-4,4,-3],
        [3,-4,3,-3,4,-3,3,-4,3,-4,4,-3,4,-5,5,-6,6,-4,3,-4],
        [4,-3,5,-4,3,-5,4,-3,5,-4,3,-4,5,-4,3,-5,4,-3,4,-5],
        [4,-3,5,-4,3,-5,4,-3,5,-4,4,-6,7,-8,10,-10,8,-6,5,-4],
        [3,-5,4,-3,5,-4,3,-5,4,-5,6,-7,8,-10,10,-8,6,-5,4,-3],
        [5,-6,8,-8,6,-5,4,-5,5,-4,6,-6,5,-4,3,-5,4,-3,5,-4]
    ];

    const traces = [tracePenzance, traceCarnmenellis, traceCamborne, traceRedruth,
                    traceTruroHigh, traceTruroSchool, traceRichardLander, tracePenair];

    // phases drawn on every panel
    const phases = [
        {name: "P",   times: arrivalP,   color: "#1f77b4", alpha: 0.6},
        {name: "PcP", times: arrivalPcP, color: "#aec7e8", alpha: 0.6},
        {name: "pP",  times: arrivalpP,  color: "#ff7f0e", alpha: 0.6},
        {name: "PP",  times: arrivalPP,  color: "#9467bd", alpha: 0.7}
    ];
    const legendColors = ["black", "#1f77b4", "#aec7e8", "#ff7f0e"];

    // ---- layout ----
    const fig = {width: 1900, height: 1100, left: 152, right: 1824, top: 88, bottom: 1012};
    const panelHeight = (fig.bottom - fig.top) / traces.length;

    const svg = d3.select("#chart");
    const x = d3.scaleLinear().domain(timeRange).range([fig.left, fig.right]);

    // matplotlib style exponent labels, e.g. 2.0e-07
    function sci(v) {
        if (v === 0) return "0.0e+00";
        return v.toExponential(1).replace(/e([+-])(\d)$/, "e$10$2");
    }

    function toPoints(rows) {
        const pts = [];
        rows.forEach((row, k) => row.forEach((v, j) => {
            pts.push({t: sampleStart + k * rowSeconds + j * sampleStep, v: v * unit});
        }));
        return pts;
    }

    // title
    svg.append("g").selectAll("text")
        .data(titleLines)
        .enter().append("text")
        .attr("x", fig.width / 2)
        .attr("y", (d, i) => 21 + i * 16)
        .attr("text-anchor", "middle")
        .text(d => d);

    traces.forEach(function(rows, i) {
        const top = fig.top + i * panelHeight;
        const bottom = top + panelHeight;
        const y = d3.scaleLinear().domain([-yLimits[i], yLimits[i]]).range([bottom, top]);
        const panel = svg.append("g").attr("class", "panel");

        panel.append("clipPath").attr("id", "clip" + i)
            .append("rect")
            .attr("x", fig.left).attr("y", top)
            .attr("width", fig.right - fig.left).attr("height", panelHeight);

        // seismogram
        const line = d3.line().x(d => x(d.t)).y(d => y(d.v));
        panel.append("path")
            .attr("class", "trace")
            .attr("clip-path", "url(#clip" + i + ")")
            .attr("d", line(toPoints(rows)));

        // arrival markers
        phases.forEach(function(ph) {
            const px = x(ph.times[i]);
            panel.append("line").attr("class", "arrival")
                .attr("x1", px).attr("x2", px)
                .attr("y1", top).attr("y2", bottom)
                .attr("stroke", ph.color)
                .attr("stroke-opacity", ph.alpha);
            panel.append("text").attr("class", "phase")
                .attr("x", px - 5)
                .attr("y", bottom - 4)
                .attr("text-anchor", "end")
                .style("fill", ph.color)
                .style("fill-opacity", ph.alpha)
                .text(ph.name);
        });

        // axes, ticks pointing inwards
        const step = yTickSteps[i];
        const yTicks = [-step, 0, step];
        panel.append("g")
            .attr("transform", `translate(${fig.left},0)`)
            .call(d3.axisLeft(y).tickValues(yTicks).tickSize(-5).tickPadding(5).tickFormat(sci))
            .call(g => g.select(".domain").remove());
        panel.append("g")
            .attr("transform", `translate(${fig.right},0)`)
            .call(d3.axisRight(y).tickValues(yTicks).tickSize(-5).tickFormat(""))
            .call(g => g.select(".domain").remove());
        panel.append("g")
            .attr("transform", `translate(0,${top})`)
            .call(d3.axisTop(x).tickValues(xTickValues).tickSize(-5).tickFormat(""))
            .call(g => g.select(".domain").remove());
        const last = i === traces.length - 1;
        panel.append("g")
            .attr("transform", `translate(0,${bottom})`)
            .call(d3.axisBottom(x).tickValues(xTickValues).tickSize(-5).tickPadding(5)
                .tickFormat(last ? d3.format("d") : ""))
            .call(g => g.select(".domain").remove());

        panel.append("rect").attr("class", "frame")
            .attr("x", fig.left).attr("y", top)
            .attr("width", fig.right - fig.left).attr("height", panelHeight);

        panel.append("text")
            .attr("x", fig.left + 17.7)
            .attr("y", top + 16)
            .text(stationLabels[i]);
    });

    // leftover ticks of the figure-wide axis at the left edge
    const figY = d3.scaleLinear().domain([0, 1]).range([fig.height, 0]);
    svg.append("g")
        .call(d3.axisRight(figY).tickValues([0.2, 0.4, 0.6, 0.8]).tickSize(4).tickFormat(""))
        .call(g => g.select(".domain").remove());

    // axis titles and notes
    svg.append("text")
        .attr("transform", `translate(22,${fig.height / 2}) rotate(-90)`)
        .attr("text-anchor", "middle")
        .text("Velocity [m/s]");
    svg.append("text")
        .attr("x", 962).attr("y", 1083)
        .attr("text-anchor", "middle")
        .text("Time since earthquake [s]");
    svg.append("text")
        .attr("x", 19.6).attr("y", 1083)
        .text(filterNote);

    // first arrivals box
    svg.append("g").selectAll("text")
        .data(legendLines)
        .enter().append("text")
        .attr("x", 1520.7)
        .attr("y", (d, i) => 1056 + i * 13.9)
        .style("fill", (d, i) => legendColors[i])
        .text(d => d);
</script>
</body>
</html>
